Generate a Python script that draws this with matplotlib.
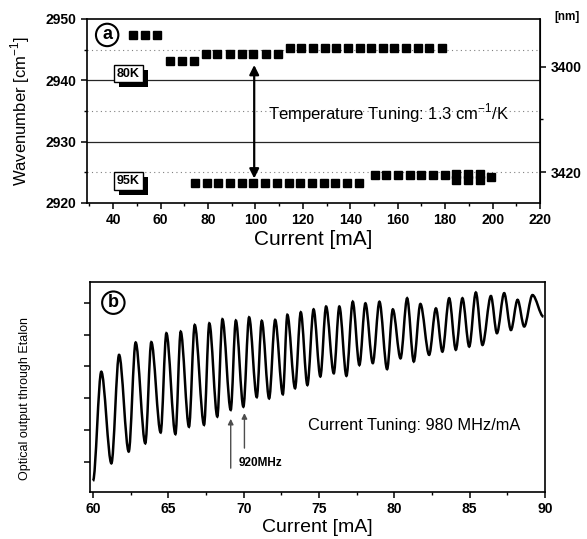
import numpy as np
import matplotlib
matplotlib.use('Agg')
import matplotlib.pyplot as plt
from matplotlib.ticker import MultipleLocator, NullFormatter
from matplotlib.path import Path
from matplotlib.patches import PathPatch
import matplotlib.patheffects as pe

plt.rcParams['font.family'] = ['Liberation Sans', 'DejaVu Sans']
plt.rcParams['mathtext.fontset'] = 'custom'
plt.rcParams['mathtext.rm'] = 'Liberation Sans'

# panel (a): wavenumber vs current at two temperatures
cur_80K = [48.5, 53.5, 58.5, 64.0, 68.9, 74.2, 79.2, 83.9, 89.3, 94.2, 99.1, 104.4, 109.6,
           114.5, 119.4, 124.3, 129.2, 134.1, 139.0, 143.9, 148.8, 153.7, 158.6, 163.5,
           168.4, 173.3, 178.5]
wn_80K = [2947.4, 2947.4, 2947.4, 2943.2, 2943.2, 2943.2, 2944.3, 2944.3, 2944.3, 2944.3,
          2944.3, 2944.3, 2944.3, 2945.3, 2945.3, 2945.3, 2945.3, 2945.3, 2945.3, 2945.3,
          2945.3, 2945.3, 2945.3, 2945.3, 2945.3, 2945.3, 2945.3]
cur_95K = [74.5, 79.4, 84.4, 89.3, 94.2, 99.2, 104.1, 109.1, 114.0, 118.9, 123.9, 128.8,
           133.7, 138.7, 143.6, 150.3, 155.2, 160.1, 165.1, 170.0, 174.9, 179.8,
           184.7, 184.7, 189.6, 189.6, 194.5, 194.5, 199.5]
wn_95K = [2923.3, 2923.3, 2923.3, 2923.3, 2923.3, 2923.3, 2923.3, 2923.3, 2923.3, 2923.3,
          2923.3, 2923.3, 2923.3, 2923.3, 2923.3, 2924.6, 2924.6, 2924.6, 2924.6, 2924.6,
          2924.6, 2924.6, 2924.8, 2923.7, 2924.8, 2923.7, 2924.8, 2923.7, 2924.2]

# panel (b): etalon fringes, peaks and troughs
cur_b = [60.0, 60.55, 61.22, 61.73, 62.37, 62.83, 63.47, 63.87, 64.49, 64.87, 65.47, 65.82,
         66.37, 66.75, 67.37, 67.72, 68.25, 68.59, 69.14, 69.48, 69.98, 70.36, 70.87, 71.20,
         71.69, 72.09, 72.60, 72.90, 73.41, 73.79, 74.23, 74.64, 75.09, 75.47, 75.98, 76.35,
         76.82, 77.24, 77.68, 78.08, 78.57, 79.01, 79.52, 79.90, 80.41, 80.85, 81.29, 81.73,
         82.31, 82.76, 83.19, 83.64, 84.08, 84.52, 84.97, 85.41, 85.85, 86.41, 86.81, 87.29,
         87.74, 88.18, 88.62, 89.17, 89.9]
sig_b = [0.35, 3.78, 0.90, 4.31, 1.27, 4.70, 1.53, 4.71, 1.87, 4.99, 1.82, 5.04,
         2.05, 5.25, 2.11, 5.30, 2.37, 5.43, 2.58, 5.39, 2.68, 5.49, 2.98, 5.38,
         2.94, 5.41, 3.07, 5.57, 3.26, 5.65, 3.36, 5.74, 3.63, 5.83, 3.73, 5.83,
         3.65, 5.98, 3.99, 5.93, 4.05, 5.98, 3.86, 5.74, 4.20, 6.09, 4.10, 5.91,
         4.31, 5.77, 4.41, 6.09, 4.47, 6.09, 4.57, 6.27, 4.62, 6.16, 4.99, 6.25,
         5.09, 6.04, 5.20, 6.19, 5.51]

fig = plt.figure(figsize=(5.87, 5.39), dpi=100)
W, H = 587.0, 539.0

# ---------- panel a ----------
ax1 = fig.add_axes([87 / W, 1 - 203 / H, 453 / W, 184 / H])
ax1.set_xlim(29, 220)
ax1.set_ylim(2920, 2950)
for yv in [2930, 2940]:
    ax1.axhline(yv, color='0.15', lw=0.9, zorder=1)
for yv in [2925, 2935, 2945]:
    ax1.axhline(yv, color='0.5', lw=0.8, ls=(0, (1, 3)), zorder=1)
ax1.plot(cur_80K, wn_80K, 's', color='k', ms=5.2, zorder=3)
ax1.plot(cur_95K, wn_95K, 's', color='k', ms=5.2, zorder=3)

ax1.xaxis.set_major_locator(MultipleLocator(20))
ax1.xaxis.set_minor_locator(MultipleLocator(10))
ax1.yaxis.set_major_locator(MultipleLocator(10))
ax1.yaxis.set_minor_locator(MultipleLocator(5))
ax1.tick_params(which='major', direction='out', length=4, width=1.1, labelsize=10)
ax1.tick_params(which='minor', direction='out', length=2.5, width=1)
for lab in ax1.get_xticklabels() + ax1.get_yticklabels():
    lab.set_fontweight('bold')
for s in ax1.spines.values():
    s.set_linewidth(1.2)
ax1.set_xlabel('Current [mA]', fontsize=15, labelpad=2)

sec = ax1.secondary_yaxis('right', functions=(lambda w: 1e7 / (w - 1.07),
                                               lambda l: 1e7 / l + 1.07))
sec.set_yticks([3400, 3420])
sec.set_yticks([3410], minor=True)
sec.tick_params(which='major', direction='out', length=4, width=1.1, labelsize=10)
sec.tick_params(which='minor', direction='out', length=2.5, width=1)
for lab in sec.get_yticklabels():
    lab.set_fontweight('bold')
fig.text(567 / W, 1 - 17 / H, '[nm]', fontsize=8.5, fontweight='bold', ha='center', va='center')

fig.text(20 / W, 1 - 111 / H, 'Wavenumber [cm$^{\\mathregular{-1}}$]', fontsize=12,
         rotation=90, ha='center', va='center')

ax1.annotate('', xy=(99.5, 2942.5), xytext=(99.5, 2924.0),
             arrowprops=dict(arrowstyle='<|-|>', color='k', lw=1.6, mutation_scale=14,
                             shrinkA=0, shrinkB=0), zorder=4)
ax1.text(105.3, 2934.65, 'Temperature Tuning: 1.3 cm$^{\\mathregular{-1}}$/K', fontsize=12,
         ha='left', va='center')

for txt, yv in [('80K', 2941.1), ('95K', 2923.6)]:
    t = ax1.text(46.5, yv, txt, fontsize=9, fontweight='bold', ha='center', va='center',
                 zorder=5, bbox=dict(boxstyle='square,pad=0.22', fc='white', ec='k', lw=1))
    t.get_bbox_patch().set_path_effects([
        pe.SimplePatchShadow(offset=(3.5, -3.5), shadow_rgbFace='k', alpha=1), pe.Normal()])

ax1.text(37.5, 2947.4, 'a', fontsize=13, fontweight='bold', ha='center', va='center',
         bbox=dict(boxstyle='circle,pad=0.15', fc='white', ec='k', lw=1.5))

# ---------- panel b ----------
ax2 = fig.add_axes([90 / W, 1 - 492 / H, 455 / W, 210 / H])
ax2.set_xlim(59.8, 90)
ax2.set_ylim(0, 6.6)

# smooth fringe trace: cubic segments between the read extrema (flat at each turning point)
verts = [(cur_b[0], sig_b[0])]
codes = [Path.MOVETO]
for i in range(len(cur_b) - 1):
    x0, y0, x1, y1 = cur_b[i], sig_b[i], cur_b[i + 1], sig_b[i + 1]
    d = 0.33 * (x1 - x0)
    verts += [(x0 + d, y0), (x1 - d, y1), (x1, y1)]
    codes += [Path.CURVE4] * 3
ax2.add_patch(PathPatch(Path(verts, codes), fc='none', ec='k', lw=1.8))

ax2.xaxis.set_major_locator(MultipleLocator(5))
ax2.xaxis.set_minor_locator(MultipleLocator(2.5))
ax2.set_yticks([0.95, 1.95, 2.95, 3.95, 4.95, 5.95])
ax2.yaxis.set_major_formatter(NullFormatter())
ax2.tick_params(which='major', direction='out', length=4, width=1.1, labelsize=10)
ax2.tick_params(which='minor', direction='out', length=2.5, width=1)
for lab in ax2.get_xticklabels():
    lab.set_fontweight('bold')
for s in ax2.spines.values():
    s.set_linewidth(1.2)
ax2.set_xlabel('Current [mA]', fontsize=14, labelpad=2)
fig.text(25 / W, 1 - 399 / H, 'Optical output through Etalon', fontsize=9,
         rotation=90, ha='center', va='center')

ax2.text(61.35, 5.95, 'b', fontsize=13, fontweight='bold', ha='center', va='center',
         bbox=dict(boxstyle='circle,pad=0.15', fc='white', ec='k', lw=1.5))

for xa, y0, y1 in [(69.14, 0.75, 2.30), (70.05, 1.38, 2.48)]:
    ax2.annotate('', xy=(xa, y1), xytext=(xa, y0),
                 arrowprops=dict(arrowstyle='-|>', color='0.3', lw=1.0, mutation_scale=8,
                                 shrinkA=0, shrinkB=0))
ax2.text(69.65, 0.92, '920MHz', fontsize=8.5, fontweight='bold', ha='left', va='center')
ax2.text(74.27, 2.1, 'Current Tuning: 980 MHz/mA', fontsize=11.8, ha='left', va='center')

fig.savefig('out.png', dpi=100)
